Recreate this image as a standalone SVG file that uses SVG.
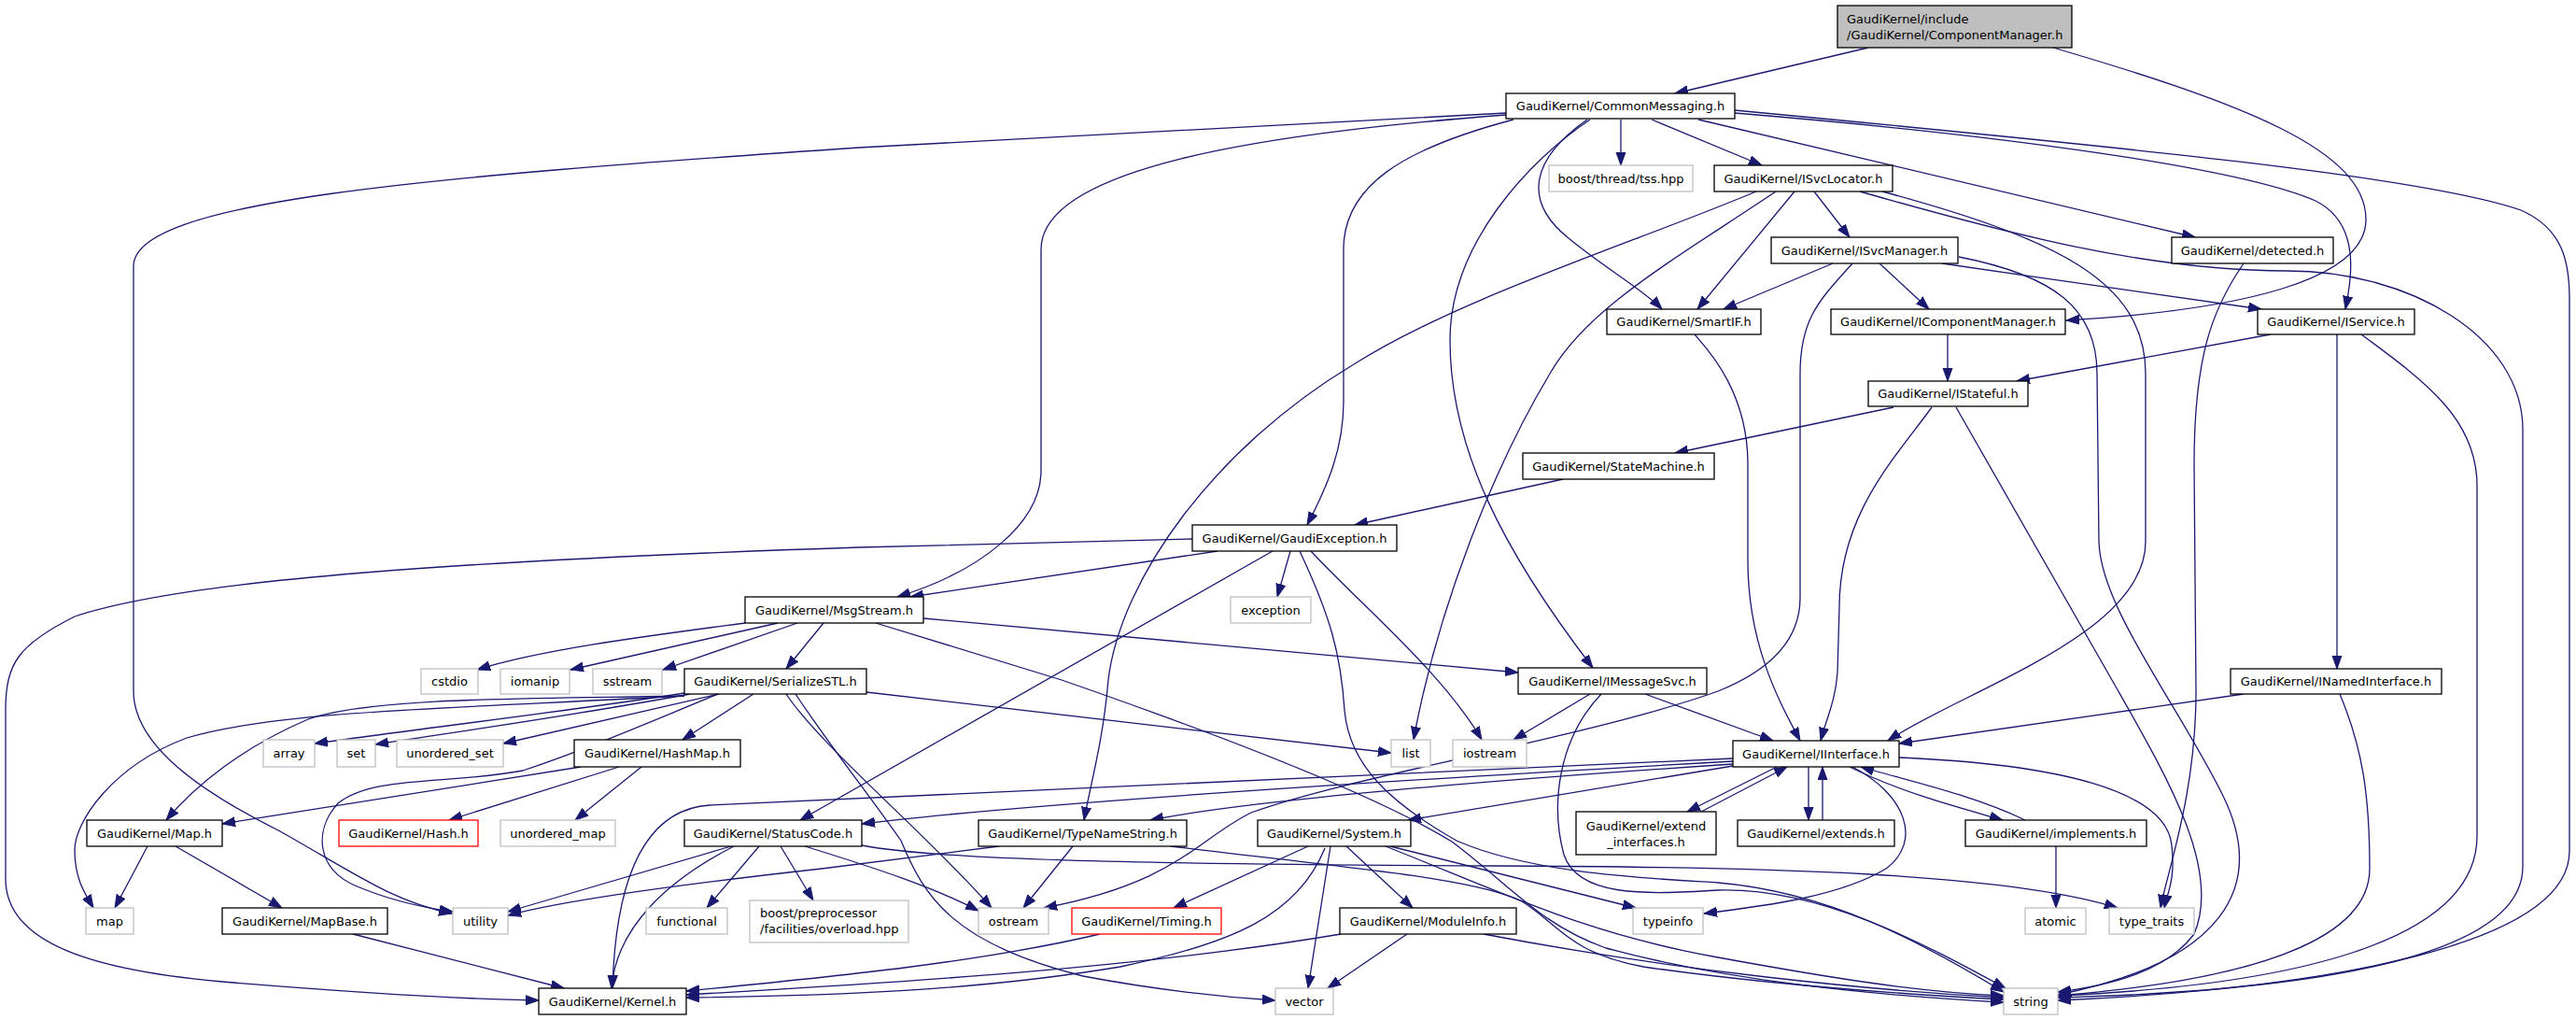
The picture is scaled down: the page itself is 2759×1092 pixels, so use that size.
<svg xmlns="http://www.w3.org/2000/svg" width="2759" height="1092" viewBox="0 0 2759 1092">
<style>
.bg{fill:#ffffff}
.n rect{fill:#ffffff;stroke:#000000;stroke-width:1.3}
.n.root rect{fill:#bfbfbf}
.n.sys rect{stroke:#bfbfbf}
.n.red rect{stroke:#ff0000}
.n text{font-family:"DejaVu Sans","Liberation Sans",sans-serif;font-size:13px;fill:#000000;text-anchor:middle}
.n text.l{text-anchor:start}
.e path{fill:none;stroke:#191970;stroke-width:1.3}
</style>
<defs>
<marker id="a" markerUnits="userSpaceOnUse" markerWidth="15" markerHeight="12" refX="14" refY="5.5" orient="auto">
<path d="M0,0.5 L14,5.5 L0,10.5 z" fill="#191970" stroke="#191970" stroke-width="1"/>
</marker>
</defs>
<rect class="bg" x="0" y="0" width="2759" height="1092"/>
<g class="e">
<path marker-end="url(#a)" d="M2001,51 L1794,100"/>
<path marker-end="url(#a)" d="M2199,51 C2400,110 2534,160 2534,235 C2534,300 2400,332 2213,343"/>
<path marker-end="url(#a)" d="M1613,121 C1300,138 1050,150 920,158 C450,190 143,215 143,285 L143,740 C143,800 220,850 300,890 C380,935 420,965 484,978"/>
<path marker-end="url(#a)" d="M1613,123 C1350,143 1115,180 1115,267 L1115,504 C1115,560 1050,612 961,639"/>
<path marker-end="url(#a)" d="M1621,128 C1500,160 1439,200 1439,267 L1439,430 C1439,480 1422,520 1400,562"/>
<path marker-end="url(#a)" d="M1703,128 C1640,170 1553,260 1553,364 C1553,480 1610,590 1706,715"/>
<path marker-end="url(#a)" d="M1700,128 C1640,170 1630,215 1680,255 C1720,288 1760,310 1780,331"/>
<path marker-end="url(#a)" d="M1736,128 L1736,177"/>
<path marker-end="url(#a)" d="M1769,128 L1887,177"/>
<path marker-end="url(#a)" d="M1819,128 L2351,254"/>
<path marker-end="url(#a)" d="M1858,121 C2150,145 2400,180 2480,215 C2530,240 2518,300 2512,331"/>
<path marker-end="url(#a)" d="M1858,118 C2300,160 2600,190 2700,225 C2745,245 2752,280 2752,320 L2752,911 C2752,1010 2500,1058 2204,1071"/>
<path marker-end="url(#a)" d="M1922,205 L1818,331"/>
<path marker-end="url(#a)" d="M1943,205 L1981,254"/>
<path marker-end="url(#a)" d="M1881,205 C1750,260 1560,320 1450,390 C1300,480 1200,620 1187,728 C1182,790 1168,840 1161,878"/>
<path marker-end="url(#a)" d="M1902,205 C1790,280 1700,330 1660,400 C1600,500 1540,650 1514,792"/>
<path marker-end="url(#a)" d="M2016,205 C2200,255 2298,300 2298,400 L2298,580 C2298,680 2100,740 2022,793"/>
<path marker-end="url(#a)" d="M1992,205 C2150,250 2300,290 2450,290 C2580,290 2702,360 2702,460 L2702,928 C2702,1020 2500,1060 2204,1068"/>
<path marker-end="url(#a)" d="M1963,282 L1846,331"/>
<path marker-end="url(#a)" d="M2013,282 L2066,331"/>
<path marker-end="url(#a)" d="M2080,282 C2200,300 2350,320 2422,331"/>
<path marker-end="url(#a)" d="M1984,282 C1950,320 1928,340 1928,400 L1928,640 C1928,690 1890,720 1840,740 C1700,790 1450,830 1340,870 C1280,900 1260,945 1118,972"/>
<path marker-end="url(#a)" d="M2098,275 C2200,295 2246,330 2246,400 L2248,580 C2250,650 2330,750 2380,850 C2430,950 2380,1030 2204,1065"/>
<path marker-end="url(#a)" d="M2403,282 C2370,330 2350,380 2350,497 L2352,740 C2352,850 2322,930 2314,972"/>
<path marker-end="url(#a)" d="M1815,358 C1830,375 1872,420 1872,497 L1872,600 C1872,690 1905,750 1928,793"/>
<path marker-end="url(#a)" d="M2086,358 L2086,408"/>
<path marker-end="url(#a)" d="M2432,358 L2160,408"/>
<path marker-end="url(#a)" d="M2503,358 L2503,716"/>
<path marker-end="url(#a)" d="M2529,358 C2600,410 2653,450 2653,520 L2653,895 C2653,1010 2450,1055 2204,1066"/>
<path marker-end="url(#a)" d="M2028,436 L1794,485"/>
<path marker-end="url(#a)" d="M2069,436 C2030,490 1970,550 1970,650 L1968,720 C1966,750 1956,770 1950,793"/>
<path marker-end="url(#a)" d="M2095,436 L2262,728 C2320,830 2380,930 2350,1000 C2320,1040 2260,1055 2204,1062"/>
<path marker-end="url(#a)" d="M1674,513 L1451,562"/>
<path marker-end="url(#a)" d="M1304,590 L975,639"/>
<path marker-end="url(#a)" d="M1382,590 L1368,639"/>
<path marker-end="url(#a)" d="M1277,577 L920,586 C500,600 200,620 80,660 C20,690 6,710 6,760 L6,941 C6,1010 100,1040 250,1052 C400,1064 500,1070 577,1071"/>
<path marker-end="url(#a)" d="M1363,590 L857,878"/>
<path marker-end="url(#a)" d="M1404,590 C1460,650 1545,720 1587,792"/>
<path marker-end="url(#a)" d="M1392,590 C1425,660 1436,700 1440,760 C1445,820 1490,860 1560,900 C1640,935 1760,940 1840,945 C1960,955 2060,1010 2146,1062"/>
<path marker-end="url(#a)" d="M798,667 C700,680 580,695 511,717"/>
<path marker-end="url(#a)" d="M833,667 L611,717"/>
<path marker-end="url(#a)" d="M854,667 L710,717"/>
<path marker-end="url(#a)" d="M882,667 L842,716"/>
<path marker-end="url(#a)" d="M989,662 L1626,720"/>
<path marker-end="url(#a)" d="M938,667 L1137,728 C1330,795 1480,855 1555,901 C1620,950 1650,990 1720,1015 C1850,1050 2000,1065 2146,1073"/>
<path marker-end="url(#a)" d="M1703,743 L1621,792"/>
<path marker-end="url(#a)" d="M1762,743 L1899,793"/>
<path marker-end="url(#a)" d="M1715,743 C1670,790 1660,860 1675,915 C1690,960 1760,958 1840,953 C1950,950 2060,1010 2148,1058"/>
<path marker-end="url(#a)" d="M2403,743 L2034,796"/>
<path marker-end="url(#a)" d="M2506,743 C2530,800 2538,850 2538,930 C2538,1010 2400,1050 2204,1066"/>
<path marker-end="url(#a)" d="M733,742 C620,760 450,780 337,796"/>
<path marker-end="url(#a)" d="M739,743 C620,765 480,785 402,797"/>
<path marker-end="url(#a)" d="M770,743 L539,796"/>
<path marker-end="url(#a)" d="M807,743 L731,792"/>
<path marker-end="url(#a)" d="M733,745 C600,748 400,745 330,770 C260,800 210,840 178,878"/>
<path marker-end="url(#a)" d="M733,745 C500,758 300,760 200,790 C120,820 80,880 80,910 C80,940 90,955 100,972"/>
<path marker-end="url(#a)" d="M769,743 C680,780 620,805 560,825 C480,840 400,830 362,860 C335,890 340,930 380,948 C420,965 455,972 485,976"/>
<path marker-end="url(#a)" d="M928,741 L1490,806"/>
<path marker-end="url(#a)" d="M842,743 C880,800 1000,900 1062,972"/>
<path marker-end="url(#a)" d="M852,743 C890,800 930,850 965,900 C990,960 1020,1010 1160,1045 C1250,1062 1320,1068 1366,1071"/>
<path marker-end="url(#a)" d="M622,821 L238,882"/>
<path marker-end="url(#a)" d="M663,821 L481,878"/>
<path marker-end="url(#a)" d="M687,821 L616,878"/>
<path marker-end="url(#a)" d="M158,906 L123,972"/>
<path marker-end="url(#a)" d="M188,906 L302,972"/>
<path marker-end="url(#a)" d="M378,1000 L604,1058"/>
<path marker-end="url(#a)" d="M783,906 L544,976"/>
<path marker-end="url(#a)" d="M786,906 C720,940 660,990 655,1058"/>
<path marker-end="url(#a)" d="M813,906 L757,972"/>
<path marker-end="url(#a)" d="M836,906 L871,964"/>
<path marker-end="url(#a)" d="M862,906 C940,930 1000,950 1048,975"/>
<path marker-end="url(#a)" d="M923,905 C1000,920 1200,925 1600,927 C1900,928 2150,935 2268,972"/>
<path marker-end="url(#a)" d="M1070,906 C1000,915 920,925 880,930 C700,950 600,965 544,980"/>
<path marker-end="url(#a)" d="M1149,906 L1096,972"/>
<path marker-end="url(#a)" d="M1254,906 C1450,930 1580,940 1630,965 C1670,990 1680,1020 1760,1035 C1900,1055 2050,1065 2146,1070"/>
<path marker-end="url(#a)" d="M1401,906 L1257,972"/>
<path marker-end="url(#a)" d="M1425,906 L1401,1058"/>
<path marker-end="url(#a)" d="M1442,906 L1513,972"/>
<path marker-end="url(#a)" d="M1419,908 C1390,980 1320,1010 1200,1035 C1050,1060 900,1066 735,1068"/>
<path marker-end="url(#a)" d="M1489,906 L1752,972"/>
<path marker-end="url(#a)" d="M1484,906 C1620,960 1700,1000 1840,1025 C1950,1045 2050,1062 2146,1066"/>
<path marker-end="url(#a)" d="M1178,1000 C1050,1030 900,1045 735,1061"/>
<path marker-end="url(#a)" d="M1436,1000 C1200,1040 900,1055 735,1065"/>
<path marker-end="url(#a)" d="M1507,1000 L1422,1058"/>
<path marker-end="url(#a)" d="M1589,1000 C1800,1040 2000,1060 2146,1068"/>
<path marker-end="url(#a)" d="M1856,812 C1500,830 1000,848 760,862 C700,866 660,920 656,1058"/>
<path marker-end="url(#a)" d="M1856,815 C1500,835 1100,860 923,882"/>
<path marker-end="url(#a)" d="M1856,818 C1600,835 1350,855 1232,878"/>
<path marker-end="url(#a)" d="M1856,820 L1508,878"/>
<path marker-end="url(#a)" d="M1903,821 L1807,869"/>
<path marker-end="url(#a)" d="M1822,869 L1914,821"/>
<path marker-end="url(#a)" d="M1937,821 L1937,878"/>
<path marker-end="url(#a)" d="M1952,878 L1952,821"/>
<path marker-end="url(#a)" d="M1981,821 C2040,850 2100,865 2145,878"/>
<path marker-end="url(#a)" d="M2169,878 C2110,850 2040,835 1993,821"/>
<path marker-end="url(#a)" d="M1984,821 C2040,850 2060,900 2020,930 C1970,960 1890,970 1825,978"/>
<path marker-end="url(#a)" d="M2034,811 C2200,818 2320,845 2326,905 C2330,940 2322,955 2318,972"/>
<path marker-end="url(#a)" d="M2202,906 L2202,972"/>
</g>
<g id="n_root" class="n root"><rect x="1968" y="6" width="251" height="45"/><text class="l" x="1978" y="24.5">GaudiKernel/include</text><text class="l" x="1978" y="41.5">/GaudiKernel/ComponentManager.h</text></g>
<g id="n_commonmessaging" class="n"><rect x="1613" y="100" width="245" height="27"/><text x="1735.5" y="118">GaudiKernel/CommonMessaging.h</text></g>
<g id="n_tss" class="n sys"><rect x="1659" y="177" width="154" height="28"/><text x="1736" y="195.7">boost/thread/tss.hpp</text></g>
<g id="n_isvclocator" class="n"><rect x="1836" y="177" width="191" height="28"/><text x="1931.5" y="195.7">GaudiKernel/ISvcLocator.h</text></g>
<g id="n_isvcmanager" class="n"><rect x="1897" y="254" width="200" height="28"/><text x="1997" y="272.7">GaudiKernel/ISvcManager.h</text></g>
<g id="n_detected" class="n"><rect x="2326" y="254" width="173" height="28"/><text x="2412.5" y="272.7">GaudiKernel/detected.h</text></g>
<g id="n_smartif" class="n"><rect x="1721" y="331" width="165" height="27"/><text x="1803.5" y="349.2">GaudiKernel/SmartIF.h</text></g>
<g id="n_icomponentmanager" class="n"><rect x="1961" y="331" width="251" height="27"/><text x="2086.5" y="349.2">GaudiKernel/IComponentManager.h</text></g>
<g id="n_iservice" class="n"><rect x="2418" y="331" width="168" height="27"/><text x="2502" y="349.2">GaudiKernel/IService.h</text></g>
<g id="n_istateful" class="n"><rect x="2001" y="408" width="171" height="27"/><text x="2086.5" y="426.2">GaudiKernel/IStateful.h</text></g>
<g id="n_statemachine" class="n"><rect x="1631" y="485" width="205" height="28"/><text x="1733.5" y="503.7">GaudiKernel/StateMachine.h</text></g>
<g id="n_gaudiexception" class="n"><rect x="1277" y="562" width="219" height="28"/><text x="1386.5" y="580.7">GaudiKernel/GaudiException.h</text></g>
<g id="n_exception" class="n sys"><rect x="1318" y="639" width="86" height="28"/><text x="1361" y="657.7">exception</text></g>
<g id="n_msgstream" class="n"><rect x="798" y="639" width="191" height="28"/><text x="893.5" y="657.7">GaudiKernel/MsgStream.h</text></g>
<g id="n_cstdio" class="n sys"><rect x="451" y="716" width="61" height="27"/><text x="481.5" y="734.2">cstdio</text></g>
<g id="n_iomanip" class="n sys"><rect x="536" y="716" width="74" height="27"/><text x="573" y="734.2">iomanip</text></g>
<g id="n_sstream" class="n sys"><rect x="635" y="716" width="74" height="27"/><text x="672" y="734.2">sstream</text></g>
<g id="n_serializestl" class="n"><rect x="733" y="716" width="195" height="27"/><text x="830.5" y="734.2">GaudiKernel/SerializeSTL.h</text></g>
<g id="n_imessagesvc" class="n"><rect x="1626" y="715" width="202" height="28"/><text x="1727" y="733.7">GaudiKernel/IMessageSvc.h</text></g>
<g id="n_inamedinterface" class="n"><rect x="2389" y="716" width="226" height="27"/><text x="2502" y="734.2">GaudiKernel/INamedInterface.h</text></g>
<g id="n_array" class="n sys"><rect x="282" y="792" width="55" height="29"/><text x="309.5" y="811.2">array</text></g>
<g id="n_set" class="n sys"><rect x="361" y="792" width="41" height="29"/><text x="381.5" y="811.2">set</text></g>
<g id="n_unordered_set" class="n sys"><rect x="425" y="792" width="114" height="29"/><text x="482" y="811.2">unordered_set</text></g>
<g id="n_hashmap" class="n"><rect x="615" y="792" width="178" height="29"/><text x="704" y="811.2">GaudiKernel/HashMap.h</text></g>
<g id="n_list" class="n sys"><rect x="1490" y="792" width="42" height="29"/><text x="1511" y="811.2">list</text></g>
<g id="n_iostream" class="n sys"><rect x="1556" y="792" width="79" height="29"/><text x="1595.5" y="811.2">iostream</text></g>
<g id="n_iinterface" class="n"><rect x="1856" y="793" width="178" height="28"/><text x="1945" y="811.7">GaudiKernel/IInterface.h</text></g>
<g id="n_map_h" class="n"><rect x="93" y="878" width="145" height="28"/><text x="165.5" y="896.7">GaudiKernel/Map.h</text></g>
<g id="n_hash" class="n red"><rect x="363" y="878" width="149" height="28"/><text x="437.5" y="896.7">GaudiKernel/Hash.h</text></g>
<g id="n_unordered_map" class="n sys"><rect x="536" y="878" width="123" height="28"/><text x="597.5" y="896.7">unordered_map</text></g>
<g id="n_statuscode" class="n"><rect x="733" y="878" width="190" height="28"/><text x="828" y="896.7">GaudiKernel/StatusCode.h</text></g>
<g id="n_typenamestring" class="n"><rect x="1048" y="878" width="223" height="28"/><text x="1159.5" y="896.7">GaudiKernel/TypeNameString.h</text></g>
<g id="n_system" class="n"><rect x="1347" y="878" width="164" height="28"/><text x="1429" y="896.7">GaudiKernel/System.h</text></g>
<g id="n_extend_interfaces" class="n"><rect x="1688" y="869" width="150" height="46"/><text x="1763" y="888.5">GaudiKernel/extend</text><text x="1763" y="905.5">_interfaces.h</text></g>
<g id="n_extends" class="n"><rect x="1861" y="878" width="168" height="28"/><text x="1945" y="896.7">GaudiKernel/extends.h</text></g>
<g id="n_implements" class="n"><rect x="2105" y="878" width="194" height="28"/><text x="2202" y="896.7">GaudiKernel/implements.h</text></g>
<g id="n_map" class="n sys"><rect x="92" y="972" width="51" height="28"/><text x="117.5" y="990.7">map</text></g>
<g id="n_mapbase" class="n"><rect x="238" y="972" width="177" height="28"/><text x="326.5" y="990.7">GaudiKernel/MapBase.h</text></g>
<g id="n_utility" class="n sys"><rect x="485" y="972" width="59" height="28"/><text x="514.5" y="990.7">utility</text></g>
<g id="n_functional" class="n sys"><rect x="692" y="972" width="87" height="28"/><text x="735.5" y="990.7">functional</text></g>
<g id="n_overload" class="n sys"><rect x="803" y="964" width="170" height="45"/><text class="l" x="814" y="982">boost/preprocessor</text><text class="l" x="814" y="999">/facilities/overload.hpp</text></g>
<g id="n_ostream" class="n sys"><rect x="1048" y="972" width="75" height="28"/><text x="1085.5" y="990.7">ostream</text></g>
<g id="n_timing" class="n red"><rect x="1148" y="972" width="160" height="28"/><text x="1228" y="990.7">GaudiKernel/Timing.h</text></g>
<g id="n_moduleinfo" class="n"><rect x="1435" y="972" width="189" height="28"/><text x="1529.5" y="990.7">GaudiKernel/ModuleInfo.h</text></g>
<g id="n_typeinfo" class="n sys"><rect x="1749" y="972" width="75" height="28"/><text x="1786.5" y="990.7">typeinfo</text></g>
<g id="n_atomic" class="n sys"><rect x="2169" y="972" width="65" height="28"/><text x="2201.5" y="990.7">atomic</text></g>
<g id="n_type_traits" class="n sys"><rect x="2259" y="972" width="91" height="28"/><text x="2304.5" y="990.7">type_traits</text></g>
<g id="n_kernel" class="n"><rect x="577" y="1058" width="158" height="28"/><text x="656" y="1076.7">GaudiKernel/Kernel.h</text></g>
<g id="n_vector" class="n sys"><rect x="1366" y="1058" width="62" height="28"/><text x="1397" y="1076.7">vector</text></g>
<g id="n_string" class="n sys"><rect x="2146" y="1058" width="58" height="28"/><text x="2175" y="1076.7">string</text></g>
</svg>
